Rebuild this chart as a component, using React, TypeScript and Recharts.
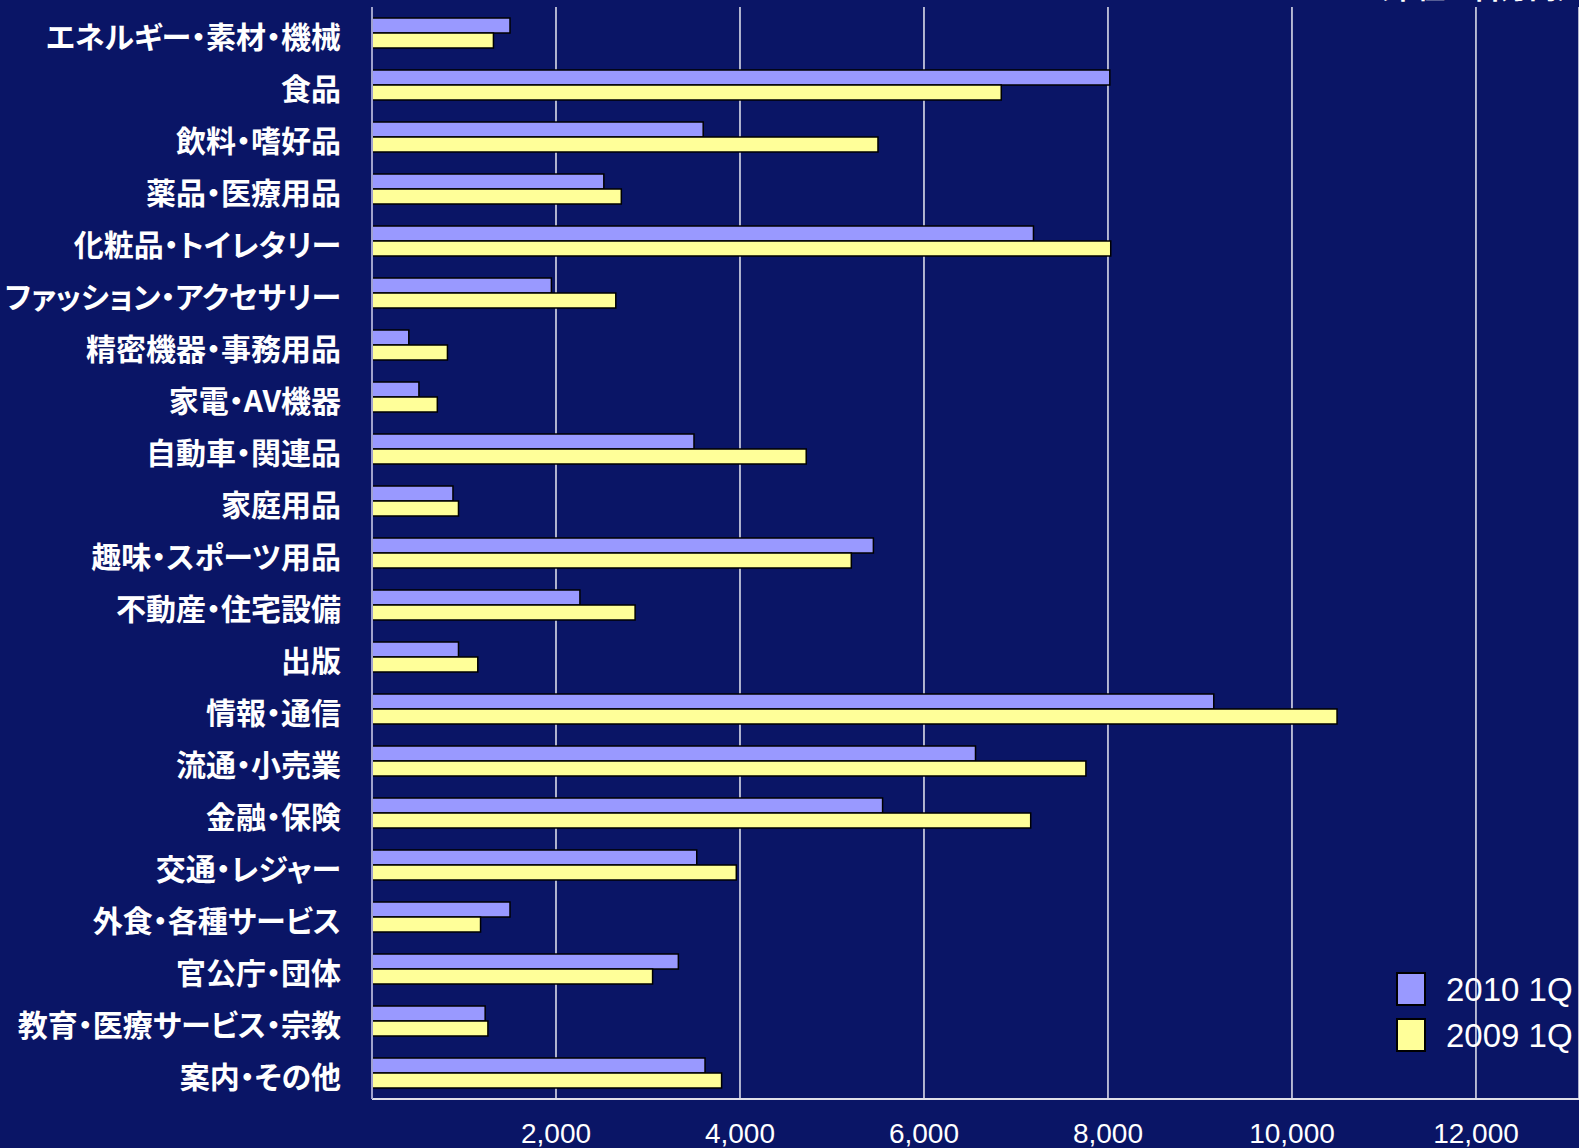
import { BarChart, Bar, XAxis, YAxis, CartesianGrid, Legend } from "recharts";

const categories = [
  "エネルギー・素材・機械",
  "食品",
  "飲料・嗜好品",
  "薬品・医療用品",
  "化粧品・トイレタリー",
  "ファッション・アクセサリー",
  "精密機器・事務用品",
  "家電・AV機器",
  "自動車・関連品",
  "家庭用品",
  "趣味・スポーツ用品",
  "不動産・住宅設備",
  "出版",
  "情報・通信",
  "流通・小売業",
  "金融・保険",
  "交通・レジャー",
  "外食・各種サービス",
  "官公庁・団体",
  "教育・医療サービス・宗教",
  "案内・その他",
];

const q2010 = [
  1500, 8020, 3600, 2520, 7190, 1950, 400, 510, 3500, 880, 5450, 2260, 940,
  9150, 6560, 5550, 3530, 1500, 3330, 1230, 3620,
];

const q2009 = [
  1320, 6840, 5500, 2710, 8030, 2650, 820, 710, 4720, 940, 5210, 2860, 1150,
  10490, 7760, 7160, 3960, 1180, 3050, 1260, 3800,
];

const xTicks = [2000, 4000, 6000, 8000, 10000, 12000];

const seriesNames = ["2010 1Q", "2009 1Q"];
const seriesColors = ["#9999ff", "#ffff99"];

const data = categories.map((name, i) => ({
  name,
  q2010: q2010[i],
  q2009: q2009[i],
}));

const BG = "#0a1566";

function LegendBox() {
  return (
    <div style={{ display: "flex", flexDirection: "column", gap: 12 }}>
      {seriesNames.map((s, i) => (
        <div key={s} style={{ display: "flex", alignItems: "center" }}>
          <div
            style={{
              width: 26,
              height: 30,
              background: seriesColors[i],
              border: "2px solid #000",
              marginRight: 20,
            }}
          />
          <span
            style={{
              color: "#fff",
              fontSize: 33,
              fontFamily: "Liberation Sans, Arial, sans-serif",
              lineHeight: "33px",
            }}
          >
            {s}
          </span>
        </div>
      ))}
    </div>
  );
}

export default function App() {
  return (
    <div
      style={{
        position: "absolute",
        left: 0,
        top: 0,
        width: 1579,
        height: 1148,
        background: BG,
        overflow: "hidden",
      }}
    >
      <div
        style={{
          position: "absolute",
          right: -6,
          top: -33,
          color: "#fff",
          fontSize: 28,
          fontWeight: 700,
          fontFamily: "Noto Sans CJK JP, sans-serif",
          zIndex: 2,
        }}
      >
        （単位：百万円）
      </div>
      <BarChart
        width={1579}
        height={1148}
        data={data}
        layout="vertical"
        margin={{ top: 7, right: 0, bottom: 0, left: 0 }}
        barSize={15}
        barGap={0}
      >
        <CartesianGrid
          horizontal={false}
          stroke="#e8e8f2"
          strokeWidth={1.5}
        />
        <XAxis
          type="number"
          domain={[0, 13120]}
          ticks={xTicks}
          allowDataOverflow
          height={49}
          tickSize={0}
          tickMargin={24}
          tickLine={false}
          axisLine={{ stroke: "#e0e0e8", strokeWidth: 2 }}
          tickFormatter={(v: number) => v.toLocaleString("en-US")}
          tick={{
            fill: "#fff",
            fontSize: 28,
            fontFamily: "Liberation Sans, Arial, sans-serif",
          }}
        />
        <XAxis
          xAxisId="top"
          orientation="top"
          type="number"
          domain={[0, 13120]}
          height={0}
          tick={false}
          tickLine={false}
          axisLine={{ stroke: "#000", strokeWidth: 2 }}
        />
        <YAxis
          type="category"
          dataKey="name"
          width={372}
          interval={0}
          tickSize={0}
          tickMargin={31}
          tickLine={false}
          axisLine={{ stroke: "#a0a2cc", strokeWidth: 2 }}
          tick={{
            fill: "#fff",
            fontSize: 30,
            fontWeight: 700,
            dy: 4,
            fontFamily: "Noto Sans CJK JP, sans-serif",
            style: { fontFeatureSettings: '"palt"' },
          }}
        />
        <Legend
          layout="vertical"
          verticalAlign="middle"
          align="center"
          content={() => <LegendBox />}
          wrapperStyle={{ left: 1396, top: 972, width: 180 }}
        />
        <Bar
          dataKey="q2010"
          name={seriesNames[0]}
          fill={seriesColors[0]}
          stroke="#000"
          strokeWidth={1.5}
          isAnimationActive={false}
        />
        <Bar
          dataKey="q2009"
          name={seriesNames[1]}
          fill={seriesColors[1]}
          stroke="#000"
          strokeWidth={1.5}
          isAnimationActive={false}
        />
      </BarChart>
    </div>
  );
}
